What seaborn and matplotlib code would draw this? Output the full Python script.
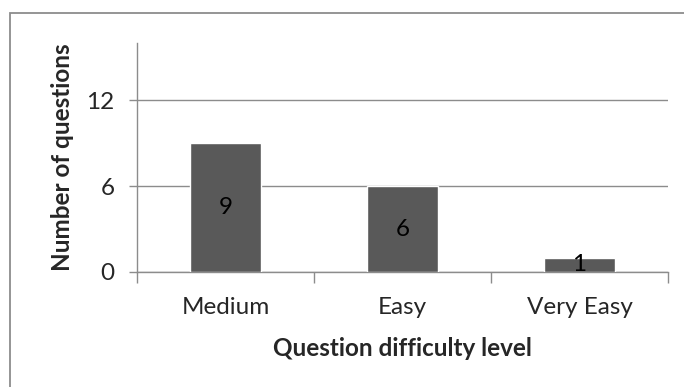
import numpy as np
import pandas as pd
import seaborn as sns
import matplotlib.pyplot as plt
from matplotlib.patches import Rectangle

levels = ['Medium', 'Easy', 'Very Easy']
counts = [9, 6, 1]
yticks = [0, 6, 12]

df = pd.DataFrame({'level': levels, 'count': counts})

sns.set_style('white')
plt.rcParams['font.family'] = ['Lato', 'DejaVu Sans']
fs = 17.5

fig = plt.figure(figsize=(6.84, 3.87), dpi=100)
ax = fig.add_axes([137 / 684, 1 - 272 / 387, (668 - 137) / 684, (272 - 43) / 387])

# outer chart frame, cut at the right and bottom edges
fig.patches.append(Rectangle((10 / 684, -0.1), 1.2, 1 - 13 / 387 + 0.1,
                             transform=fig.transFigure, fill=False,
                             edgecolor='#8c8c8c', linewidth=1.3))

sns.barplot(x='level', y='count', data=df, order=levels, color='#595959',
            saturation=1, width=0.4, ax=ax, zorder=3)

for p, v in zip(ax.patches, counts):
    ax.text(p.get_x() + p.get_width() / 2, v / 2, str(v),
            ha='center', va='center', fontsize=fs, color='black', zorder=4)

ax.set_ylim(0, 16)
ax.set_xlim(-0.5, 2.5)
ax.set_yticks(yticks)
ax.yaxis.grid(True, color='#8c8c8c', linewidth=1)
ax.set_axisbelow(True)

for s in ['top', 'right']:
    ax.spines[s].set_visible(False)
for s in ['left', 'bottom']:
    ax.spines[s].set_color('#8c8c8c')
    ax.spines[s].set_linewidth(1)

ax.set_xticks(np.arange(len(levels)))
ax.set_xticklabels(levels, fontsize=fs)
ax.set_xticks([-0.5, 0.5, 1.5, 2.5], minor=True)
ax.tick_params(axis='x', which='major', length=0, pad=18)
ax.tick_params(axis='x', which='minor', length=8, color='#8c8c8c', width=1)
ax.tick_params(axis='y', length=6, color='#8c8c8c', width=1, labelsize=fs, pad=10)
ax.tick_params(left=True, bottom=True, which='both')

ax.set_xlabel('Question difficulty level', fontsize=fs, fontweight='bold')
ax.set_ylabel('Number of questions', fontsize=fs, fontweight='bold')
ax.xaxis.set_label_coords(0.5, -0.332)
ax.xaxis.label.set_va('center')
ax.yaxis.set_label_coords(-0.141, 0.5)
ax.yaxis.label.set_va('center')

plt.savefig('out.png', dpi=100)
